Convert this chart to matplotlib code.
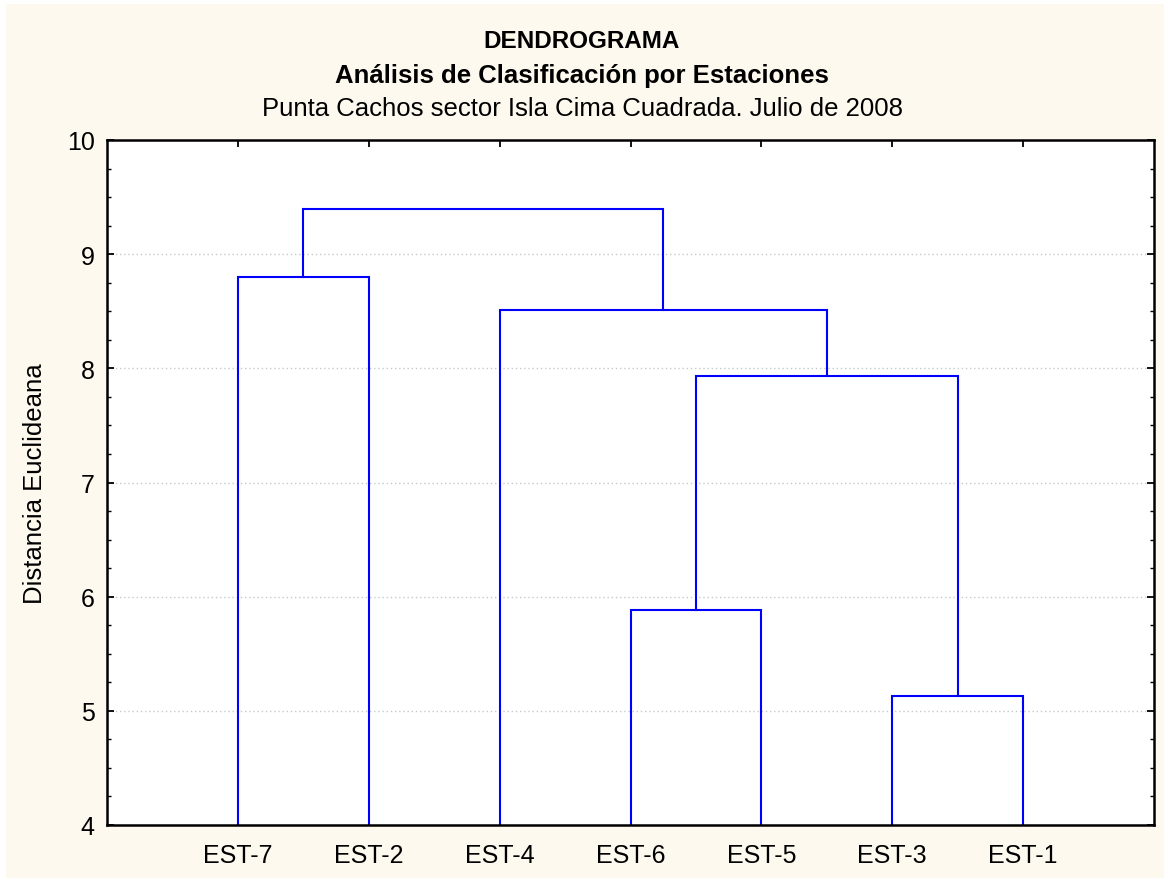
import numpy as np
import matplotlib
matplotlib.use("Agg")
import matplotlib.pyplot as plt
from matplotlib.patches import Rectangle
from matplotlib.ticker import MultipleLocator

# Estaciones en el orden del dendrograma
estaciones = ['EST-7', 'EST-2', 'EST-4', 'EST-6', 'EST-5', 'EST-3', 'EST-1']

# Uniones (indices tipo linkage: 0-6 hojas, 7+ grupos formados)
union_izq = [5, 3, 8, 2, 0, 11]
union_der = [6, 4, 7, 9, 1, 10]
distancia = [5.13, 5.88, 7.93, 8.51, 8.80, 9.40]

titulo = 'DENDROGRAMA'
subtitulo = 'Análisis de Clasificación por Estaciones'
lugar = 'Punta Cachos sector Isla Cima Cuadrada. Julio de 2008'

plt.rcParams['font.family'] = ['Liberation Sans', 'DejaVu Sans']

fondo = '#fdf9ef'
azul = '#0000ff'

fig = plt.figure(figsize=(11.64, 8.79), dpi=100, facecolor=fondo)
# borde blanco arriba y a la izquierda
fig.patches.append(Rectangle((0, 874 / 879), 1, 1, transform=fig.transFigure,
                             facecolor='white', edgecolor='none', zorder=-10))
fig.patches.append(Rectangle((0, 0), 6 / 1164, 1, transform=fig.transFigure,
                             facecolor='white', edgecolor='none', zorder=-10))
ax = fig.add_axes([107 / 1164, 53 / 879, 1047 / 1164, 685 / 879])

# posicion x y altura de cada nodo
n = len(estaciones)
pos_x = {i: i + 1.0 for i in range(n)}
alt = {i: 0.0 for i in range(n)}
for k, (a, b, d) in enumerate(zip(union_izq, union_der, distancia)):
    nodo = n + k
    pos_x[nodo] = (pos_x[a] + pos_x[b]) / 2
    alt[nodo] = d

for a, b, d in zip(union_izq, union_der, distancia):
    ax.plot([pos_x[a], pos_x[a], pos_x[b], pos_x[b]], [alt[a], d, d, alt[b]],
            color=azul, lw=1.5, solid_joinstyle='miter', zorder=3)

ax.set_xlim(0, n + 1)
ax.set_ylim(4, 10)
ax.set_xticks(range(1, n + 1))
ax.set_xticklabels(estaciones)
ax.yaxis.set_major_locator(MultipleLocator(1))
ax.yaxis.set_minor_locator(MultipleLocator(0.25))
ax.grid(axis='y', which='major', linestyle=(0, (1, 2)), color='#c8c8c8', lw=1)
ax.set_axisbelow(True)

ax.tick_params(axis='both', which='major', direction='in', length=5, width=1.3,
               labelsize=18, top=True, right=True, color='black')
ax.tick_params(axis='x', pad=13)
ax.tick_params(axis='y', pad=9)
ax.tick_params(axis='y', which='minor', direction='in', length=3, width=1, right=True)
for s in ax.spines.values():
    s.set_linewidth(1.8)
    s.set_zorder(5)

ax.set_ylabel('Distancia Euclideana', fontsize=18.5, labelpad=14)

fig.text(0.5, 1 - 41 / 879, titulo, ha='center', va='center', fontsize=17.5, fontweight='bold')
fig.text(0.5, 1 - 76 / 879, subtitulo, ha='center', va='center', fontsize=18.5, fontweight='bold')
fig.text(0.5, 1 - 109 / 879, lugar, ha='center', va='center', fontsize=18.5)

fig.savefig('out.png', dpi=100, facecolor=fig.get_facecolor())
